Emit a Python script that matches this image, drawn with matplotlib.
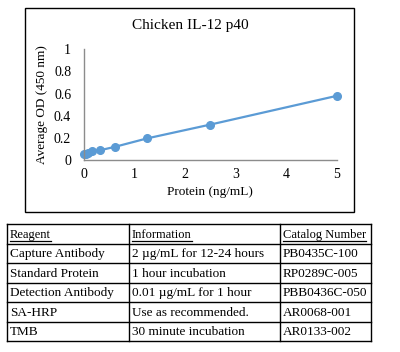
import matplotlib
matplotlib.use('Agg')
import matplotlib.pyplot as plt
from matplotlib.patches import Rectangle
from matplotlib.lines import Line2D

plt.rcParams['font.family'] = ['Liberation Serif', 'DejaVu Serif']

# standard curve
protein = [0, 0.039, 0.078, 0.156, 0.3125, 0.625, 1.25, 2.5, 5]
od = [0.05, 0.055, 0.065, 0.078, 0.087, 0.12, 0.195, 0.32, 0.58]
xticks = [0, 1, 2, 3, 4, 5]
yticks = [0, 0.2, 0.4, 0.6, 0.8, 1]
ytick_labels = ['0', '0.2', '0.4', '0.6', '0.8', '1']

# reagent table
headers = ['Reagent', 'Information', 'Catalog Number']
reagents = ['Capture Antibody', 'Standard Protein', 'Detection Antibody', 'SA-HRP', 'TMB']
info = ['2 \u00b5g/mL for 12-24 hours', '1 hour incubation', '0.01 \u00b5g/mL for 1 hour',
        'Use as recommended.', '30 minute incubation']
catalog = ['PB0435C-100', 'RP0289C-005', 'PBB0436C-050', 'AR0068-001', 'AR0133-002']

W, H = 400, 352
fig = plt.figure(figsize=(W / 100, H / 100), dpi=100)

def fx(px):
    return px / W

def fy(py):
    return 1 - py / H

# chart border
fig.patches.append(Rectangle((fx(25), fy(212)), fx(354) - fx(25), fy(8) - fy(212),
                             transform=fig.transFigure, fill=False, edgecolor='black', lw=1))

blue = '#5B9BD5'
ax = fig.add_axes([fx(83.7), fy(160), fx(337) - fx(83.7), fy(49.3) - fy(160)])
ax.plot(protein, od, color=blue, lw=1.6, marker='o', ms=5.5, clip_on=False)
ax.set_xlim(0, 5)
ax.set_ylim(0, 1)
ax.set_xticks(xticks)
ax.set_yticks(yticks, ytick_labels)
for s in ['top', 'right']:
    ax.spines[s].set_visible(False)
for s in ['left', 'bottom']:
    ax.spines[s].set_color('#8c8c8c')
    ax.spines[s].set_linewidth(1)
ax.tick_params(length=0, labelsize=10, colors='black')
ax.tick_params(axis='y', pad=9)
ax.tick_params(axis='x', pad=6)
ax.set_xlabel('Protein (ng/mL)', fontsize=9.5, labelpad=3)
ax.set_ylabel('Average OD (450 nm)', fontsize=9.5, labelpad=4)
fig.text(fx(190), fy(26), 'Chicken IL-12 p40', fontsize=11, ha='center', va='center')

# table
cols = [7, 129, 280, 371]
top, rh = 224, 19.5
nrows = len(reagents) + 1
for c in cols:
    fig.add_artist(Line2D([fx(c), fx(c)], [fy(top), fy(top + rh * nrows)], color='black', lw=1))
for r in range(nrows + 1):
    y = top + rh * r
    fig.add_artist(Line2D([fx(cols[0]), fx(cols[-1])], [fy(y), fy(y)], color='black', lw=1))

rows = [headers] + [list(t) for t in zip(reagents, info, catalog)]
fig.canvas.draw()
renderer = fig.canvas.get_renderer()
for r, row in enumerate(rows):
    yc = top + rh * r + rh / 2 + 1
    for c, txt in enumerate(row):
        t = fig.text(fx(cols[c] + 3), fy(yc), txt, fontsize=9 if r == 0 else 9.5,
                     ha='left', va='center')
        if r == 0:
            bb = t.get_window_extent(renderer)
            ub = fy(yc + 6.5)
            fig.add_artist(Line2D([bb.x0 / fig.bbox.width, bb.x1 / fig.bbox.width], [ub, ub],
                                  color='black', lw=0.9))

fig.savefig('out.png', dpi=100)
